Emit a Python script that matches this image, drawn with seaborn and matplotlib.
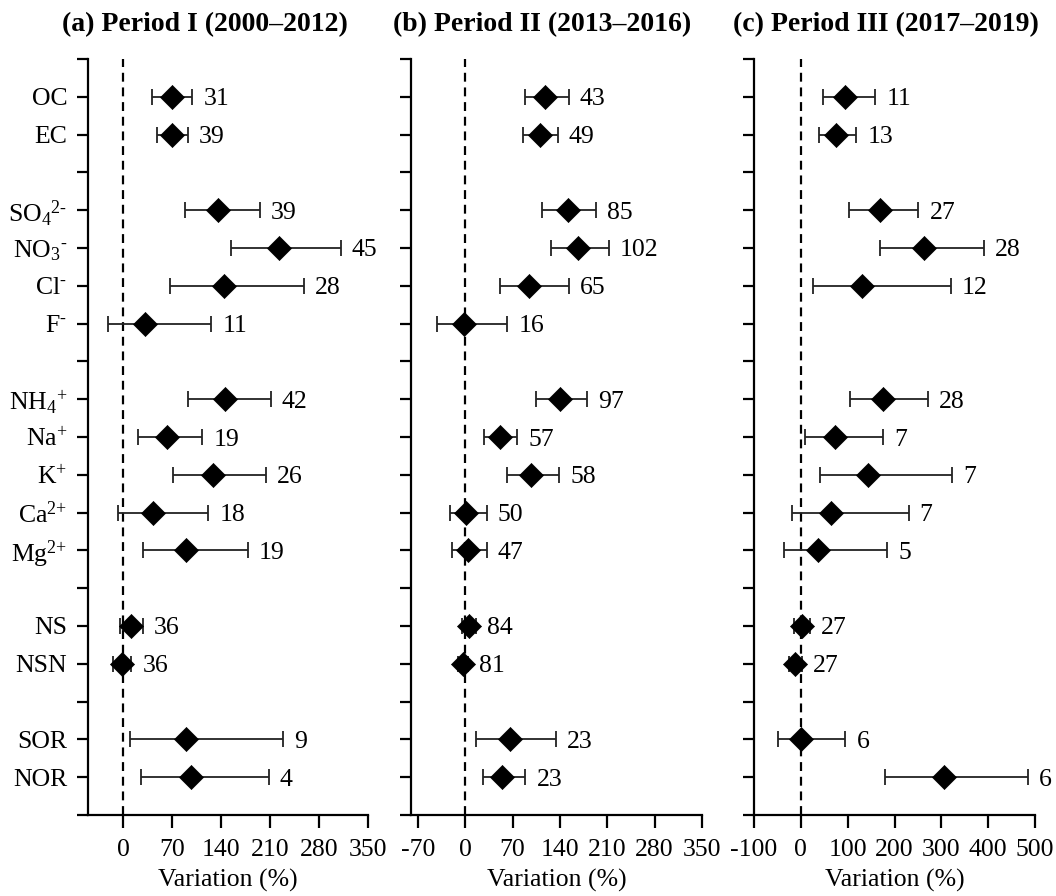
import numpy as np
import pandas as pd
import matplotlib
matplotlib.use("Agg")
import matplotlib.pyplot as plt
import seaborn as sns

# ---------------- data ----------------
species = ["OC", "EC", "SO4", "NO3", "Cl", "F", "NH4", "Na", "K", "Ca", "Mg", "NS", "NSN", "SOR", "NOR"]
species_labels = ["OC", "EC", r"SO$_4$$^{\text{2-}}$", r"NO$_3$$^{\text{-}}$", r"Cl$^{\text{-}}$", r"F$^{\text{-}}$",
                  r"NH$_4$$^{\text{+}}$", r"Na$^{\text{+}}$", r"K$^{\text{+}}$", r"Ca$^{\text{2+}}$", r"Mg$^{\text{2+}}$",
                  "NS", "NSN", "SOR", "NOR"]
# row index of each species (gaps between groups)
row_pos = [0, 1, 3, 4, 5, 6, 8, 9, 10, 11, 12, 14, 15, 17, 18]

titles = ["(a) Period I (2000\u20132012)", "(b) Period II (2013\u20132016)", "(c) Period III (2017\u20132019)"]

p1_mean = [70, 70, 135, 223, 144, 32, 146, 63, 129, 43, 90, 11, -1, 90, 97]
p1_low = [42, 48, 88, 155, 67, -22, 93, 22, 72, -7, 29, -5, -14, 10, 26]
p1_high = [99, 93, 195, 311, 258, 126, 211, 113, 204, 122, 178, 28, 12, 229, 208]
p1_n = [31, 39, 39, 45, 28, 11, 42, 19, 26, 18, 19, 36, 36, 9, 4]

p2_mean = [118, 111, 152, 167, 95, -1, 140, 52, 98, 1, 4, 5, -3, 66, 55]
p2_low = [88, 86, 114, 127, 51, -41, 104, 28, 62, -22, -20, -5, -11, 16, 27]
p2_high = [153, 137, 193, 212, 153, 62, 180, 77, 139, 32, 32, 16, 4, 134, 89]
p2_n = [43, 49, 85, 102, 65, 16, 97, 57, 58, 50, 47, 84, 81, 23, 23]

p3_mean = [95, 75, 168, 262, 131, np.nan, 175, 74, 144, 64, 36, 2, -12, 0, 305]
p3_low = [48, 38, 102, 168, 26, np.nan, 104, 9, 41, -19, -36, -14, -25, -49, 180]
p3_high = [159, 118, 251, 391, 320, np.nan, 271, 176, 323, 230, 184, 19, 3, 95, 484]
p3_n = [11, 13, 27, 28, 12, None, 28, 7, 7, 7, 5, 27, 27, 6, 6]

x_limits = [(-50, 350), (-80, 350), (-100, 500)]
x_ticks = [[0, 70, 140, 210, 280, 350],
           [-70, 0, 70, 140, 210, 280, 350],
           [-100, 0, 100, 200, 300, 400, 500]]

# ---------------- style ----------------
sns.set_style("ticks")
plt.rcParams["font.family"] = ["Liberation Serif", "DejaVu Serif"]
plt.rcParams["mathtext.fontset"] = "custom"
plt.rcParams["mathtext.rm"] = "Liberation Serif"
plt.rcParams["mathtext.it"] = "Liberation Serif:italic"
plt.rcParams["mathtext.bf"] = "Liberation Serif:bold"
plt.rcParams["mathtext.default"] = "regular"
plt.rcParams["text.color"] = "black"
plt.rcParams["axes.labelcolor"] = "black"
plt.rcParams["xtick.color"] = "black"
plt.rcParams["ytick.color"] = "black"

FS = 18.5

fig = plt.figure(figsize=(10.56, 8.96), dpi=100)
W, H = 1056.0, 896.0
ax_px = [(88, 368), (411, 702), (754, 1035)]
top_px, bot_px = 59, 815
title_x = [0.418, 0.45, 0.468]

panels = [(p1_mean, p1_low, p1_high, p1_n),
          (p2_mean, p2_low, p2_high, p2_n),
          (p3_mean, p3_low, p3_high, p3_n)]

for i, (mean, low, high, n) in enumerate(panels):
    l, r = ax_px[i]
    ax = fig.add_axes([l / W, (H - bot_px) / H, (r - l) / W, (bot_px - top_px) / H])
    df = pd.DataFrame({"species": species, "pos": row_pos, "mean": mean,
                       "low": low, "high": high, "n": n}).dropna(subset=["mean"])

    ax.axvline(0, color="black", lw=1.6, dashes=(4, 2.6), zorder=1)
    ax.errorbar(df["mean"], df["pos"],
                xerr=[df["mean"] - df["low"], df["high"] - df["mean"]],
                fmt="none", ecolor="#222222", elinewidth=1.3, capsize=5.5,
                capthick=1.3, zorder=2)
    sns.scatterplot(data=df, x="mean", y="pos", marker="D", color="black",
                    s=150, edgecolor="black", linewidth=0.5, ax=ax, zorder=3,
                    legend=False)
    for _, row in df.iterrows():
        ax.annotate(f"{int(row['n'])}", xy=(row["high"], row["pos"]),
                    xytext=(8, 0), textcoords="offset points",
                    ha="left", va="center_baseline", fontsize=FS, color="black")

    ax.set_xlim(*x_limits[i])
    ax.set_ylim(19, -1)
    ax.set_xticks(x_ticks[i])
    ax.set_xticklabels([str(t) for t in x_ticks[i]], fontsize=FS)
    ax.set_yticks(list(range(-1, 20)))
    ylabels = [""] * 21
    if i == 0:
        for p, lab in zip(row_pos, species_labels):
            ylabels[p + 1] = lab
    ax.set_yticklabels(ylabels, fontsize=FS)
    ax.set_xlabel("Variation (%)", fontsize=FS, labelpad=6)
    ax.set_ylabel("")
    ax.set_title(titles[i], fontsize=20, fontweight="bold", x=title_x[i], y=1.0,
                 pad=20, color="black")

    for s in ["top", "right"]:
        ax.spines[s].set_visible(False)
    for s in ["left", "bottom"]:
        ax.spines[s].set_linewidth(1.6)
        ax.spines[s].set_color("black")
    ax.tick_params(axis="both", direction="out", width=1.6, color="black",
                   labelcolor="black")
    ax.tick_params(axis="y", length=8, pad=7)
    ax.tick_params(axis="x", length=9, pad=8)

fig.savefig("out.png", dpi=100)
